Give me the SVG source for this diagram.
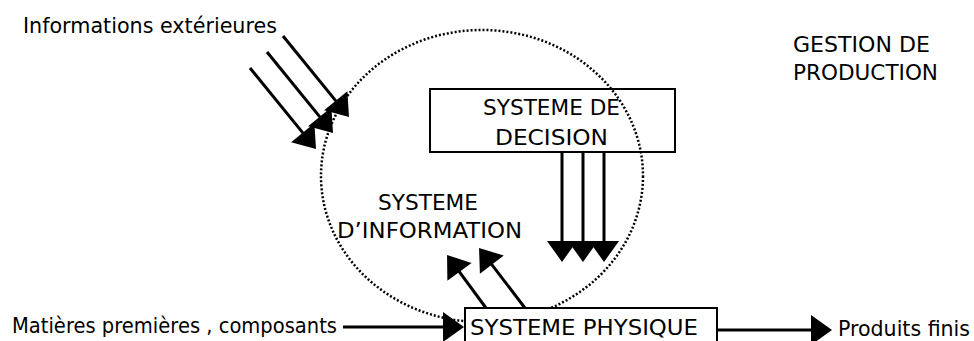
<svg xmlns="http://www.w3.org/2000/svg" width="974" height="341" viewBox="0 0 974 341">
<style>
text{font-family:"DejaVu Sans","Liberation Sans",sans-serif;font-size:21px;fill:#000}
.box{stroke:#000;stroke-width:2}
.ln{stroke:#000;stroke-width:3;fill:none;marker-end:url(#ah)}
.dot{fill:none;stroke:#000;stroke-width:2.5;stroke-dasharray:2 2}
</style>
<defs>
<marker id="ah" markerUnits="userSpaceOnUse" markerWidth="22" markerHeight="32" refX="15" refY="15" orient="auto" overflow="visible">
<path d="M0,0 L21,15 L0,30 z" fill="#000"/>
</marker>
</defs>
<rect width="974" height="341" fill="#fff"/>
<g id="gestion-label">
<text x="793" y="52" textLength="137" lengthAdjust="spacingAndGlyphs">GESTION DE</text>
<text x="793" y="80" textLength="145" lengthAdjust="spacingAndGlyphs">PRODUCTION</text>
</g>
<g id="systeme-information">
<ellipse class="dot" cx="482" cy="176" rx="161" ry="146"/>
<text x="378" y="210" textLength="100" lengthAdjust="spacingAndGlyphs">SYSTEME</text>
<text x="337" y="238" textLength="185" lengthAdjust="spacingAndGlyphs">D’INFORMATION</text>
</g>
<g id="systeme-decision">
<rect class="box" x="430" y="89" width="245" height="63" fill="none"/>
<text x="483" y="115" textLength="137" lengthAdjust="spacingAndGlyphs">SYSTEME DE</text>
<text x="495" y="145" textLength="113" lengthAdjust="spacingAndGlyphs">DECISION</text>
</g>
<g id="informations-exterieures">
<text x="23" y="33" textLength="254" lengthAdjust="spacingAndGlyphs">Informations extérieures</text>
</g>
<g id="matieres">
<text x="12" y="333" textLength="325" lengthAdjust="spacingAndGlyphs">Matières premières , composants</text>
</g>
<g id="produits-finis">
<text x="838" y="336" textLength="132" lengthAdjust="spacingAndGlyphs">Produits finis</text>
</g>
<g id="connectors">
<line class="ln" x1="250" y1="68" x2="312.2" y2="144.4"/>
<line class="ln" x1="267" y1="52" x2="329.2" y2="128.4"/>
<line class="ln" x1="283" y1="36" x2="345.2" y2="112.4"/>
<line class="ln" x1="562" y1="152" x2="562" y2="256"/>
<line class="ln" x1="583" y1="152" x2="583" y2="256"/>
<line class="ln" x1="604" y1="152" x2="604" y2="256"/>
<line class="ln" x1="486" y1="308" x2="450.6" y2="259.8"/>
<line class="ln" x1="525" y1="308" x2="482.7" y2="252.7"/>
<line class="ln" x1="343" y1="327" x2="458" y2="327"/>
<line class="ln" x1="718" y1="330" x2="826" y2="330"/>
</g>
<g id="systeme-physique">
<rect class="box" x="465" y="308" width="252" height="40" fill="#fff"/>
<text x="470" y="335" textLength="228" lengthAdjust="spacingAndGlyphs">SYSTEME PHYSIQUE</text>
</g>
</svg>
